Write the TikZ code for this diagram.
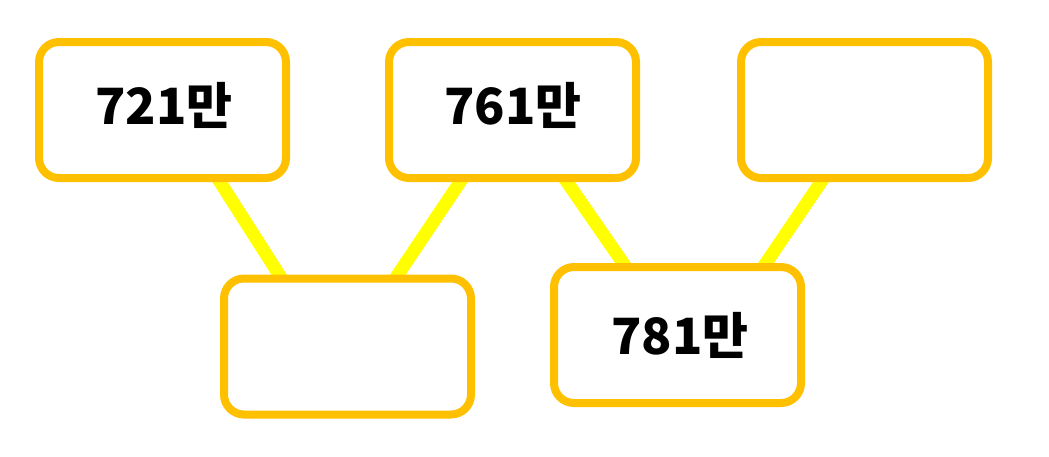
\documentclass[tikz,border=0pt]{standalone}
\usepackage{fontspec}
\newfontfamily\kr{Noto Sans CJK KR}
\usetikzlibrary{calc,backgrounds}
\definecolor{boxor}{RGB}{255,192,0}
\definecolor{lineyel}{RGB}{255,255,0}
\begin{document}
\begin{tikzpicture}[x=1pt,y=-1pt,
  numbox/.style={draw=boxor,line width=8pt,fill=white,rounded corners=20pt,
    minimum width=247pt,minimum height=136pt,inner sep=0pt},
  numtext/.style={font=\kr\bfseries\fontsize{50}{50}\selectfont,text=black},
  link/.style={draw=lineyel,line width=13pt,line cap=rect}]
\useasboundingbox (0,0) rectangle (1049,456);
\node[numbox] (b1) at (162.5,110) {};
\node[numbox] (b2) at (512.5,110) {};
\node[numbox] (b3) at (864.5,110) {};
\node[numbox] (b4) at (347.5,346.5) {};
\node[numbox] (b5) at (677.5,335) {};
\node[numtext] (t1) at (164,105) {721만};
\node[numtext] (t2) at (513,105) {761만};
\node[numtext] (t5) at (680,335) {781만};
\begin{scope}[on background layer]
\draw[link] ($(b1.south)+(57.5,0)$) -- ($(b4.north)+(-68.5,0)$);
\draw[link] ($(b2.south)+(-52.5,0)$) -- ($(b4.north)+(50.5,0)$);
\draw[link] ($(b2.south)+(54.5,0)$) -- ($(b5.north)+(-54.5,0)$);
\draw[link] ($(b3.south)+(-43.5,0)$) -- ($(b5.north)+(88.5,0)$);
\end{scope}
\end{tikzpicture}
\end{document}
